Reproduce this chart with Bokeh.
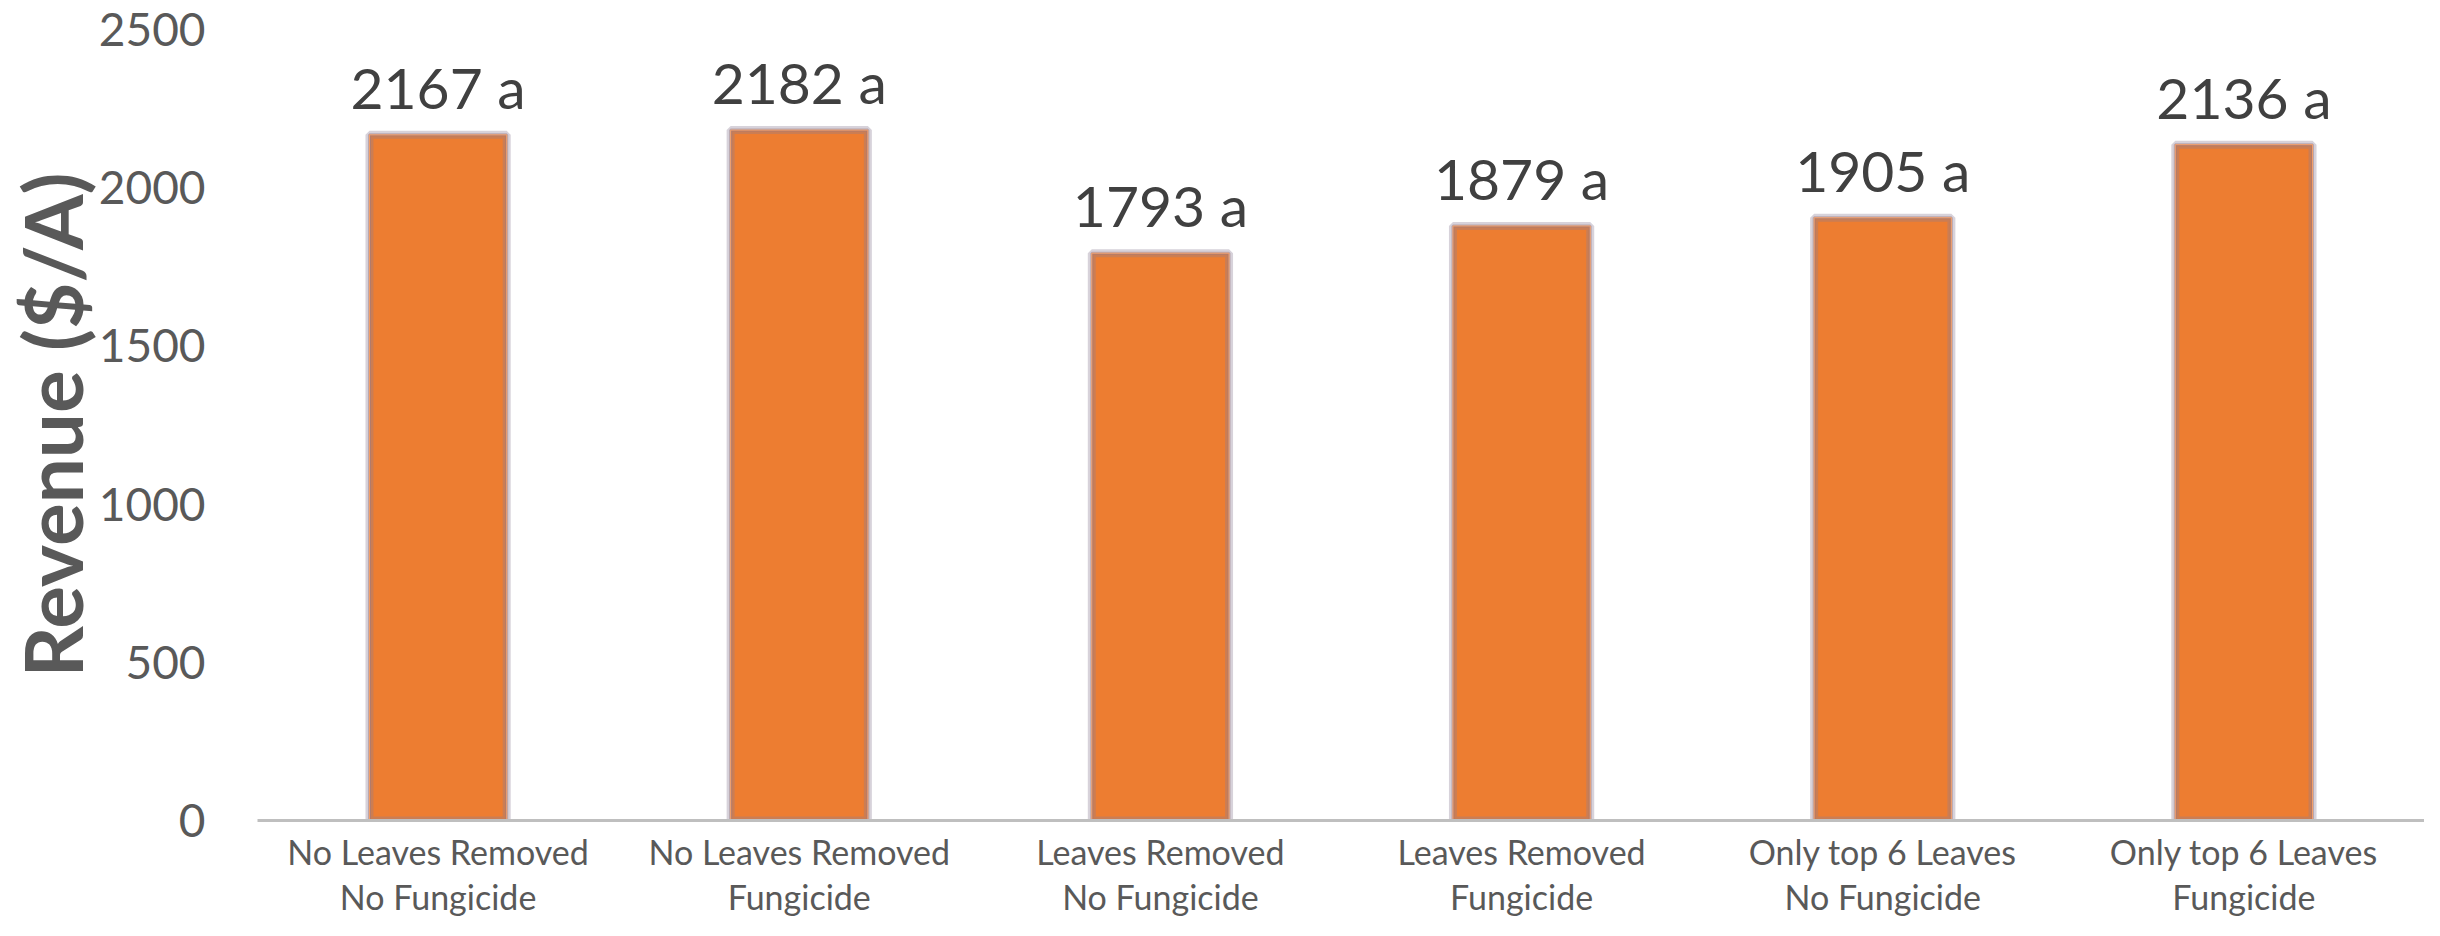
from bokeh.plotting import figure
from bokeh.models import FactorRange, Range1d, FixedTicker, ColumnDataSource
from bokeh.core.properties import value
from bokeh.embed import file_html
from bokeh.resources import INLINE

categories = [
    "No Leaves Removed\nNo Fungicide",
    "No Leaves Removed\nFungicide",
    "Leaves Removed\nNo Fungicide",
    "Leaves Removed\nFungicide",
    "Only top 6 Leaves\nNo Fungicide",
    "Only top 6 Leaves\nFungicide",
]
revenue = [2167, 2182, 1793, 1879, 1905, 2136]
letters = ["a", "a", "a", "a", "a", "a"]
y_ticks = [0, 500, 1000, 1500, 2000, 2500]

labels = [f"{v} {l}" for v, l in zip(revenue, letters)]
src = ColumnDataSource(dict(cat=categories, rev=revenue, lab=labels))

FONT = "Lato"

p = figure(
    x_range=FactorRange(*categories),
    y_range=Range1d(0, 2500),
    width=2424, height=920,
    min_border_left=249, min_border_right=0,
    min_border_top=29, min_border_bottom=100,
    output_backend="svg", toolbar_location=None,
)
p.outline_line_color = None
p.background_fill_color = "white"
p.border_fill_color = "white"
p.xgrid.grid_line_color = None
p.ygrid.grid_line_color = None

# bars: orange fill with a soft greyish inner edge and thin orange outline
p.vbar(x="cat", top="rev", width=0.38, source=src,
       fill_color="#ED7D31", line_color="#8C7F95", line_width=8, line_alpha=0.35)
p.vbar(x="cat", top="rev", width=0.38, source=src,
       fill_color=None, line_color="#9A7C86", line_width=3, line_alpha=0.5)
p.vbar(x="cat", top="rev", width=0.38, source=src,
       fill_color=None, line_color="#F4A06A", line_width=1)

p.text(x="cat", y="rev", text="lab", source=src,
       text_align="center", text_baseline="middle", y_offset=-48,
       text_font=value(FONT), text_font_size="57px", text_color="#404040")

# y axis
ya = p.yaxis[0]
ya.ticker = FixedTicker(ticks=y_ticks)
ya.axis_line_color = None
ya.major_tick_line_color = None
ya.minor_tick_line_color = None
ya.major_tick_out = 0
ya.major_tick_in = 0
ya.major_label_standoff = 52
ya.major_label_text_font = FONT
ya.major_label_text_font_size = "46px"
ya.major_label_text_color = "#595959"
ya.axis_label = "Revenue ($/A)"
ya.axis_label_text_font = FONT
ya.axis_label_text_font_style = "bold"
ya.axis_label_text_font_size = "80px"
ya.axis_label_text_color = "#595959"
ya.axis_label_standoff = -4

# x axis
xa = p.xaxis[0]
xa.axis_line_color = "#BFBFBF"
xa.axis_line_width = 3
xa.major_tick_line_color = None
xa.minor_tick_line_color = None
xa.major_tick_out = 0
xa.major_tick_in = 0
xa.major_label_standoff = 10
xa.major_label_text_font = FONT
xa.major_label_text_font_size = "34px"
xa.major_label_text_color = "#595959"
xa.major_label_text_line_height = 1.12

open("out.html", "w").write(file_html(p, INLINE))
